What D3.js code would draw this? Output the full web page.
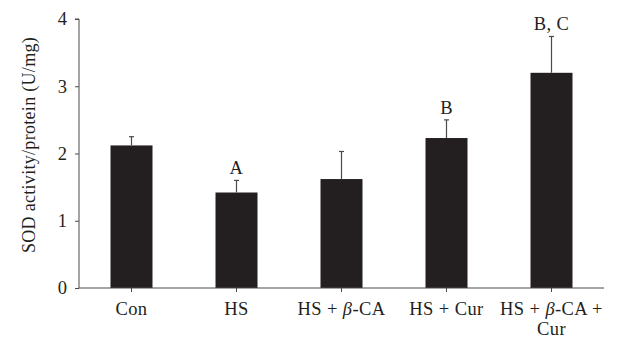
<!DOCTYPE html>
<html><head><meta charset="utf-8">
<script src="https://cdn.jsdelivr.net/npm/d3@7"></script>
<style>body{margin:0;background:#fff}svg{display:block}text{font-family:"Liberation Serif","DejaVu Serif",serif;fill:#231f20}</style>
</head><body><svg id="c" width="620" height="338"></svg>
<script>
const categories = ["Con","HS","HS + β-CA","HS + Cur","HS + β-CA + Cur"];
const means = [2.12, 1.42, 1.62, 2.23, 3.20];
const errors = [0.13, 0.18, 0.41, 0.27, 0.54];
const sigLabels = ["", "A", "", "B", "B, C"];
const yTicks = [0,1,2,3,4];

const svg = d3.select("#c");
const x = d3.scaleBand().domain(categories).range([79,604]).paddingInner(0.6).paddingOuter(0.3);
const y = d3.scaleLinear().domain([0,4]).range([288,19]);
const ink = "#231f20", axisCol = "#4a4a4a";
const FS = 18.5, LS = "0.4px";

// bars
svg.selectAll("rect.bar").data(categories).join("rect")
  .attr("x", d => x(d)).attr("width", x.bandwidth())
  .attr("y", (d,i) => y(means[i])).attr("height", (d,i) => y(0) - y(means[i]))
  .attr("fill", ink);

// error bars (upper half)
const eb = svg.append("g").attr("stroke", axisCol).attr("stroke-width", 1.2);
categories.forEach((c,i) => {
  const cx = x(c) + x.bandwidth()/2;
  eb.append("line").attr("x1", cx).attr("x2", cx).attr("y1", y(means[i])).attr("y2", y(means[i]+errors[i]));
  eb.append("line").attr("x1", cx-2.5).attr("x2", cx+2.5).attr("y1", y(means[i]+errors[i])).attr("y2", y(means[i]+errors[i]));
});

// significance letters
svg.selectAll("text.sig").data(categories).join("text")
  .attr("x", d => x(d) + x.bandwidth()/2)
  .attr("y", (d,i) => y(means[i]+errors[i]) - 6)
  .attr("text-anchor","middle").attr("font-size", FS).attr("letter-spacing", LS)
  .text((d,i) => sigLabels[i]);

// y axis
const yAxis = svg.append("g").attr("transform","translate(79,0)")
  .call(d3.axisLeft(y).tickValues(yTicks).tickSize(4).tickPadding(8).tickFormat(d3.format("d")));
yAxis.select(".domain").attr("stroke", axisCol).attr("d", `M-4,${y(4)}H0V${y(0)}`);
yAxis.selectAll(".tick line").attr("stroke", axisCol);
yAxis.selectAll(".tick text").attr("font-size", FS).attr("fill", ink).attr("font-family", '"Liberation Serif",serif');

// x axis
const xAxis = svg.append("g").attr("transform","translate(0,288)")
  .call(d3.axisBottom(x).tickSize(4).tickFormat(""));
xAxis.select(".domain").attr("stroke", axisCol).attr("d", "M79,0H604");
xAxis.selectAll(".tick line").attr("stroke", axisCol);

// x labels (manual line breaks, italic beta)
const labelLines = {
  "Con": [["Con"]],
  "HS": [["HS"]],
  "HS + β-CA": [["HS + ", {i:"β"}, "-CA"]],
  "HS + Cur": [["HS + Cur"]],
  "HS + β-CA + Cur": [["HS + ", {i:"β"}, "-CA +"], ["Cur"]]
};
categories.forEach(c => {
  const cx = x(c) + x.bandwidth()/2;
  const t = svg.append("text").attr("text-anchor","middle").attr("font-size", FS)
    .attr("letter-spacing", LS).attr("x", cx).attr("y", 315);
  labelLines[c].forEach((line, li) => {
    line.forEach((part, pi) => {
      const ts = t.append("tspan");
      if (pi === 0) ts.attr("x", cx).attr("dy", li === 0 ? 0 : 20);
      if (typeof part === "string") ts.text(part);
      else ts.text(part.i).attr("font-style","italic");
    });
  });
});

// y title
svg.append("text").attr("transform","translate(35,145) rotate(-90)")
  .attr("text-anchor","middle").attr("font-size", 18).attr("letter-spacing", "0.3px")
  .text("SOD activity/protein (U/mg)");
</script></body></html>
